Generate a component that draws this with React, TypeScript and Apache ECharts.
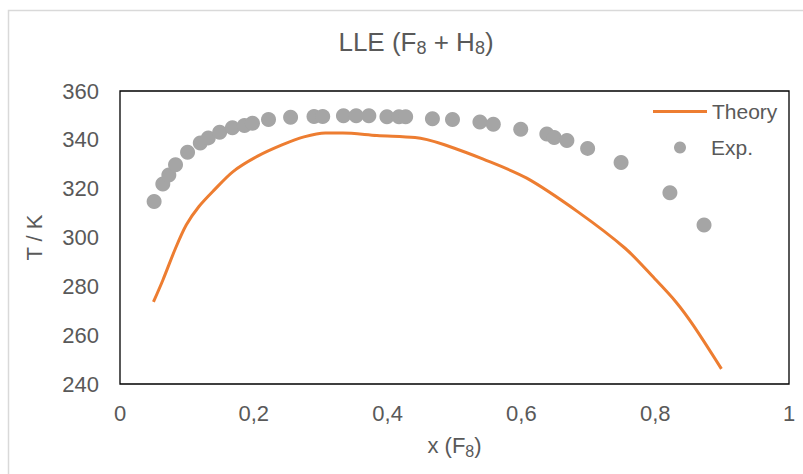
import React, { useEffect, useRef } from "react";
import * as echarts from "echarts";

const expX = [0.051, 0.064, 0.073, 0.083, 0.101, 0.12, 0.132, 0.149, 0.168, 0.186, 0.198, 0.222, 0.255, 0.29, 0.303, 0.334, 0.353, 0.372, 0.399, 0.417, 0.427, 0.467, 0.497, 0.538, 0.558, 0.599, 0.638, 0.649, 0.668, 0.699, 0.749, 0.822, 0.873];
const expT = [314.7, 321.9, 325.6, 329.8, 334.9, 338.7, 340.8, 343.1, 344.9, 345.9, 346.8, 348.3, 349.2, 349.6, 349.6, 349.9, 349.9, 349.9, 349.5, 349.5, 349.5, 348.6, 348.3, 347.3, 346.4, 344.3, 342.4, 341.0, 339.7, 336.5, 330.7, 318.3, 305.1];

const theoryX = [0.05, 0.064, 0.083, 0.099, 0.118, 0.141, 0.169, 0.205, 0.243, 0.275, 0.307, 0.333, 0.384, 0.441, 0.459, 0.485, 0.543, 0.608, 0.684, 0.755, 0.799, 0.831, 0.857, 0.899];
const theoryT = [273.6, 282.5, 295.6, 305.1, 312.7, 319.5, 327.0, 333.2, 338.0, 341.2, 342.8, 342.8, 341.8, 341.0, 340.1, 338.0, 332.1, 324.3, 310.6, 295.6, 283.2, 273.6, 264.0, 246.2];

const seriesNames = ["Theory", "Exp."];

const TEXT = "#595959";
const FONT = "'Liberation Sans', Arial, sans-serif";

export default function App() {
  const ref = useRef<HTMLDivElement>(null);
  useEffect(() => {
    if (!ref.current) return;
    const chart = echarts.init(ref.current, undefined, { renderer: "svg" });
    const subRich = {
      n: { fontSize: 26, lineHeight: 30, color: TEXT, fontFamily: FONT, fontWeight: "normal" },
      s: { fontSize: 18, lineHeight: 11, verticalAlign: "bottom", color: TEXT, fontFamily: FONT, fontWeight: "normal" },
    };
    const nameRich = {
      n: { fontSize: 22, lineHeight: 28, color: TEXT, fontFamily: FONT },
      s: { fontSize: 16, lineHeight: 11, verticalAlign: "bottom", color: TEXT, fontFamily: FONT },
    };
    const legendText = { fontSize: 21, color: TEXT, fontFamily: FONT };
    chart.setOption({
      animation: false,
      textStyle: { fontFamily: FONT },
      graphic: [
        {
          type: "rect",
          shape: { x: 8.5, y: 10.5, width: 900, height: 600 },
          style: { fill: "none", stroke: "#D9D9D9", lineWidth: 1.5 },
          silent: true,
          z: -10,
        },
      ],
      title: {
        text: "{n|LLE (F}{s|8}{n| + H}{s|8}{n|)}",
        left: 411,
        textAlign: "center",
        top: 22,
        textStyle: { rich: subRich, fontSize: 26, color: TEXT, fontWeight: "normal" },
      },
      legend: [
        {
          data: [{ name: seriesNames[0], icon: "rect" }],
          orient: "vertical",
          left: 653,
          top: 101,
          padding: 0,
          itemWidth: 54,
          itemHeight: 3,
          textStyle: legendText,
        },
        {
          data: [{ name: seriesNames[1], icon: "circle" }],
          orient: "vertical",
          left: 674,
          top: 137,
          padding: 0,
          itemWidth: 12,
          itemHeight: 12,
          textStyle: { ...legendText, padding: [0, 0, 0, 20] },
        },
      ],
      grid: {
        left: 120,
        top: 91,
        right: 14,
        bottom: 90,
        show: true,
        borderColor: "#000",
        borderWidth: 1.3,
        backgroundColor: "transparent",
      },
      xAxis: {
        type: "value",
        min: 0,
        max: 1,
        interval: 0.2,
        name: "{n|x (F}{s|8}{n|)}",
        nameLocation: "middle",
        nameGap: 47,
        nameTextStyle: { rich: nameRich },
        axisLine: { show: false },
        axisTick: { show: false },
        splitLine: { show: false },
        axisLabel: {
          fontSize: 22,
          color: TEXT,
          margin: 18,
          formatter: (v: number) => String(Math.round(v * 10) / 10).replace(".", ","),
        },
      },
      yAxis: {
        type: "value",
        min: 240,
        max: 360,
        interval: 20,
        name: "T / K",
        nameLocation: "middle",
        nameGap: 75,
        nameTextStyle: { fontSize: 22, color: TEXT },
        axisLine: { show: false },
        axisTick: { show: false },
        splitLine: { show: false },
        axisLabel: { fontSize: 22, color: TEXT, margin: 21 },
      },
      series: [
        {
          name: seriesNames[0],
          type: "line",
          data: theoryX.map((x, i) => [x, theoryT[i]]),
          smooth: 0.3,
          symbol: "none",
          lineStyle: { color: "#ED7D31", width: 3 },
          itemStyle: { color: "#ED7D31" },
        },
        {
          name: seriesNames[1],
          type: "scatter",
          data: expX.map((x, i) => [x, expT[i]]),
          symbolSize: 15,
          itemStyle: { color: "#A5A5A5", opacity: 1 },
        },
      ],
    });
    return () => chart.dispose();
  }, []);
  return (
    <div
      ref={ref}
      style={{ position: "fixed", left: 0, top: 0, width: 803, height: 474, background: "#fff" }}
    />
  );
}
